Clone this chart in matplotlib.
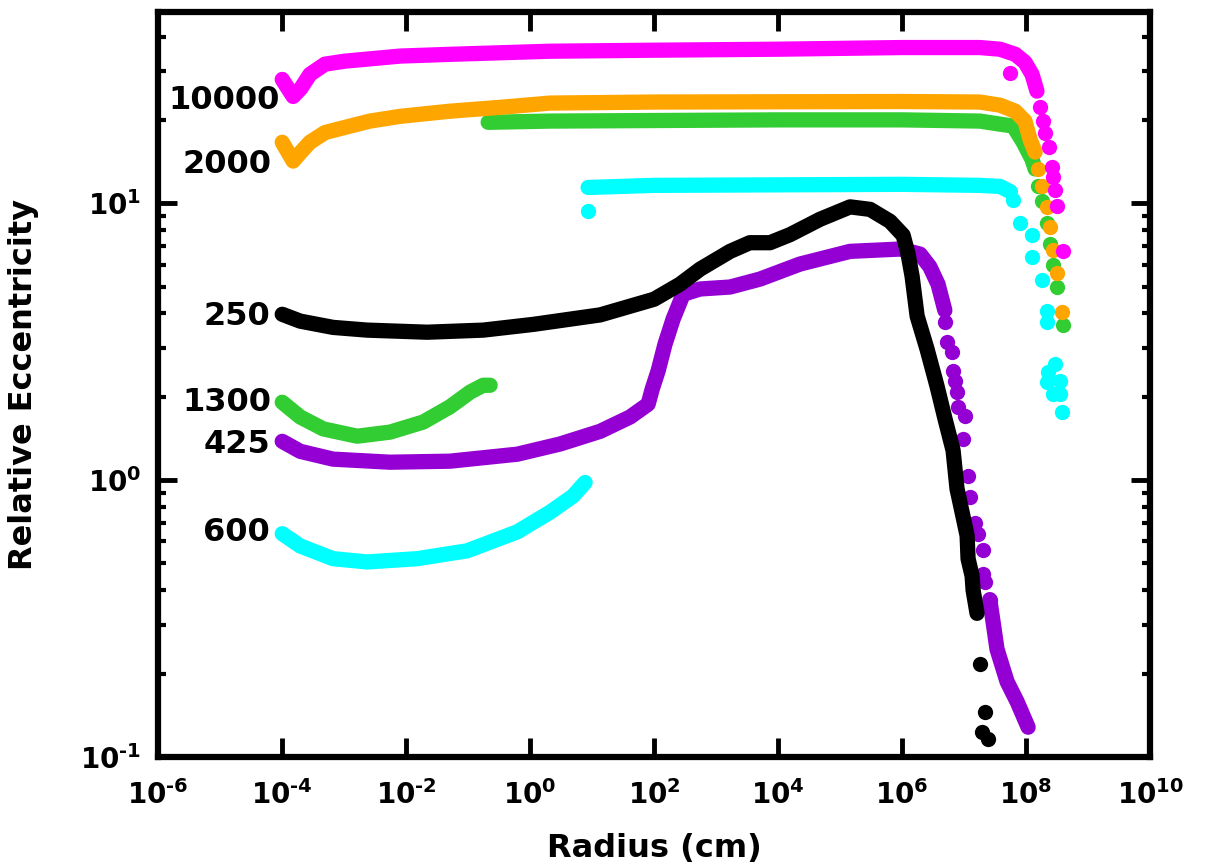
import numpy as np
import matplotlib
matplotlib.use("Agg")
import matplotlib.pyplot as plt
from matplotlib.ticker import LogLocator, NullLocator, FuncFormatter

plt.rcParams['font.family'] = ['DejaVu Sans']
plt.rcParams['font.weight'] = 'bold'
plt.rcParams['mathtext.default'] = 'bf'

# ---- data (radius in cm, relative eccentricity) ----
# 10000 (magenta)
r_10000 = [1.0e-4, 1.5e-4, 2.0e-4, 2.8e-4, 4.9e-4, 1.04e-3, 8e-3, 0.051, 2.1, 1e2, 1e4, 1e6,
           1.8e7, 3.8e7, 6.7e7, 9.6e7, 1.25e8, 1.5e8]
e_10000 = [28.0, 24.3, 26.0, 29.2, 31.8, 32.6, 34.0, 34.5, 35.4, 35.7, 36.0, 36.5,
           36.5, 36.0, 34.5, 32.3, 29.2, 25.4]
r_10000_tail = [5.6e7, 1.68e8, 1.88e8, 2.0e8, 2.35e8, 2.63e8, 2.72e8, 2.94e8, 3.16e8, 3.95e8]
e_10000_tail = [29.5, 22.2, 19.8, 18.0, 15.9, 13.5, 12.4, 11.2, 9.75, 6.7]

# 2000 (orange)
r_2000 = [1e-4, 1.5e-4, 2.0e-4, 2.8e-4, 4.9e-4, 1.04e-3, 2.6e-3, 8e-3, 0.051, 0.33, 2.1, 1e2,
          1e6, 1.8e7, 3.8e7, 6.7e7, 9.6e7, 1.16e8, 1.4e8]
e_2000 = [16.6, 14.2, 15.3, 16.6, 18.0, 18.8, 19.8, 20.6, 21.5, 22.2, 23.0, 23.2,
          23.3, 23.2, 22.6, 21.5, 19.8, 17.0, 15.3]
r_2000_tail = [1.56e8, 1.81e8, 2.18e8, 2.44e8, 2.72e8, 3.16e8, 3.81e8]
e_2000_tail = [13.3, 11.5, 9.7, 8.2, 6.8, 5.6, 4.04]

# 1300 (green), two pieces
r_1300_lo = [1e-4, 1.95e-4, 4.6e-4, 1.62e-3, 5.5e-3, 0.0188, 0.051, 0.108, 0.175, 0.226]
e_1300_lo = [1.91, 1.69, 1.53, 1.44, 1.49, 1.62, 1.84, 2.08, 2.20, 2.20]
r_1300_hi = [0.21, 2.1, 1e4, 1e6, 1.8e7, 3.8e7, 6.2e7, 9.0e7, 1.25e8, 1.4e8]
e_1300_hi = [19.6, 19.8, 20.0, 20.0, 19.8, 19.3, 19.0, 16.6, 14.4, 13.3]
r_1300_tail = [1.56e8, 1.81e8, 2.18e8, 2.44e8, 2.72e8, 3.16e8, 3.95e8]
e_1300_tail = [11.5, 10.2, 8.5, 7.1, 6.0, 4.98, 3.63]

# 600 (cyan), two pieces
r_600_lo = [1e-4, 1.95e-4, 6.6e-4, 2.35e-3, 0.015, 0.096, 0.62, 2.1, 4.9, 7.7]
e_600_lo = [0.64, 0.578, 0.52, 0.506, 0.52, 0.555, 0.65, 0.766, 0.875, 0.98]
r_600_hi = [8.6, 1e2, 1e6, 1.8e7, 3.8e7, 5.6e7]
e_600_hi = [11.4, 11.6, 11.7, 11.6, 11.5, 11.0]
r_600_tail = [8.6, 6.2e7, 8.0e7, 1.25e8, 1.27e8, 1.81e8, 2.18e8, 2.18e8, 2.94e8, 2.26e8,
              2.18e8, 3.53e8, 2.72e8, 3.53e8, 3.81e8]
e_600_tail = [9.35, 10.3, 8.5, 7.7, 6.4, 5.3, 4.07, 3.72, 2.62, 2.45,
              2.26, 2.28, 2.04, 2.04, 1.76]

# 250 (black)
r_250 = [1e-4, 1.95e-4, 6.6e-4, 2.35e-3, 0.0218, 0.175, 1.12, 13.5, 1e2, 262, 552, 1.68e3,
         3.5e3, 7.4e3, 1.56e4, 4.75e4, 1.45e5, 3.05e5, 6.4e5, 1.04e6, 1.25e6, 1.45e6, 1.75e6,
         2.53e6, 3.67e6, 4.94e6, 6.65e6, 7.7e6, 9.6e6, 1.12e7, 1.16e7, 1.35e7, 1.4e7, 1.62e7]
e_250 = [3.97, 3.75, 3.56, 3.48, 3.42, 3.48, 3.65, 3.95, 4.5, 5.1, 5.78, 6.7,
         7.2, 7.2, 7.7, 8.75, 9.7, 9.5, 8.6, 7.66, 6.55, 5.45, 3.91,
         2.97, 2.18, 1.66, 1.28, 0.93, 0.74, 0.63, 0.52, 0.45, 0.40, 0.33]
r_250_tail = [1.81e7, 2.18e7, 1.95e7, 2.44e7]
e_250_tail = [0.217, 0.145, 0.123, 0.116]

# 425 (purple)
r_425 = [1e-4, 1.95e-4, 6.6e-4, 5.5e-3, 0.051, 0.62, 3.05, 13.5, 41, 80, 93, 116, 150, 202,
         294, 552, 1.68e3, 5.1e3, 2.26e4, 1.45e5, 9.3e5, 1.95e6, 2.8e6, 3.8e6, 4.9e6]
e_425 = [1.38, 1.27, 1.19, 1.16, 1.17, 1.24, 1.35, 1.50, 1.69, 1.88, 2.13, 2.48, 3.10, 3.81,
         4.69, 4.9, 4.98, 5.32, 6.03, 6.7, 6.83, 6.55, 5.9, 5.1, 4.1]
r_425_tail = [4.94e6, 5.3e6, 6.4e6, 6.65e6, 7.2e6, 7.7e6, 8.0e6, 1.04e7, 9.6e6,
              1.16e7, 1.25e7, 1.5e7, 1.68e7, 2.02e7, 2.02e7, 2.18e7, 2.6e7]
e_425_tail = [3.72, 3.15, 2.9, 2.48, 2.28, 2.08, 1.84, 1.70, 1.41,
              1.03, 0.87, 0.70, 0.64, 0.56, 0.458, 0.43, 0.37]
r_425_end = [2.6e7, 2.94e7, 3.4e7, 4.94e7, 7.2e7, 1.08e8]
e_425_end = [0.37, 0.307, 0.245, 0.187, 0.158, 0.128]

labels = ['10000', '2000', '250', '1300', '425', '600']
label_x = [9.0e-5, 6.6e-5, 6.4e-5, 6.6e-5, 6.4e-5, 6.4e-5]
label_y = [23.4, 13.8, 3.9, 1.91, 1.34, 0.645]

MAGENTA, ORANGE, GREEN = '#ff00ff', '#ffa500', '#32cd32'
CYAN, PURPLE, BLACK = '#00ffff', '#9400d3', '#000000'

fig = plt.figure(figsize=(12.08, 8.67), dpi=100)
ax = fig.add_axes([0.131, 0.127, 0.821, 0.859])

LW = 11
MS = 11


def body(r, e, c):
    ax.plot(r, e, '-', color=c, lw=LW, solid_capstyle='round', solid_joinstyle='round')


def dots(r, e, c):
    ax.plot(r, e, 'o', color=c, ms=MS, mec='none')


body(r_600_lo, e_600_lo, CYAN)
body(r_600_hi, e_600_hi, CYAN)
dots(r_600_tail, e_600_tail, CYAN)
body(r_1300_lo, e_1300_lo, GREEN)
body(r_1300_hi, e_1300_hi, GREEN)
dots(r_1300_tail, e_1300_tail, GREEN)
body(r_2000, e_2000, ORANGE)
dots(r_2000_tail, e_2000_tail, ORANGE)
body(r_10000, e_10000, MAGENTA)
dots(r_10000_tail, e_10000_tail, MAGENTA)
body(r_425, e_425, PURPLE)
dots(r_425_tail, e_425_tail, PURPLE)
body(r_425_end, e_425_end, PURPLE)
body(r_250, e_250, BLACK)
dots(r_250_tail, e_250_tail, BLACK)

for t, xv, yv in zip(labels, label_x, label_y):
    ax.text(xv, yv, t, ha='right', va='center', fontsize=23, fontweight='bold')


def pow10(v, pos):
    e = int(round(np.log10(v)))
    if e < 0:
        return r'$\mathbf{10^{\text{-}%d}}$' % -e
    return r'$\mathbf{10^{%d}}$' % e


ax.set_xscale('log')
ax.set_yscale('log')
ax.set_xlim(1e-6, 1e10)
ax.set_ylim(0.1, 49)
ax.set_xticks(10.0 ** np.arange(-6, 11, 2))
ax.xaxis.set_minor_locator(NullLocator())
ax.yaxis.set_major_locator(LogLocator(base=10, subs=[1.0]))
ax.yaxis.set_minor_locator(LogLocator(base=10, subs=np.arange(2, 10), numticks=20))
ax.xaxis.set_major_formatter(FuncFormatter(pow10))
ax.yaxis.set_major_formatter(FuncFormatter(pow10))

for s in ax.spines.values():
    s.set_linewidth(4.5)
ax.tick_params(which='both', direction='in', top=True, right=True, labelsize=20)
ax.tick_params(which='major', length=14, width=3.5)
ax.tick_params(axis='x', which='major', pad=17)
ax.tick_params(axis='y', which='major', pad=12)
ax.tick_params(which='minor', length=6, width=3)

ax.set_xlabel('Radius (cm)', fontsize=23, fontweight='bold', labelpad=16)
ax.set_ylabel('Relative Eccentricity', fontsize=23, fontweight='bold', labelpad=30)

fig.savefig('out.png', dpi=100)
